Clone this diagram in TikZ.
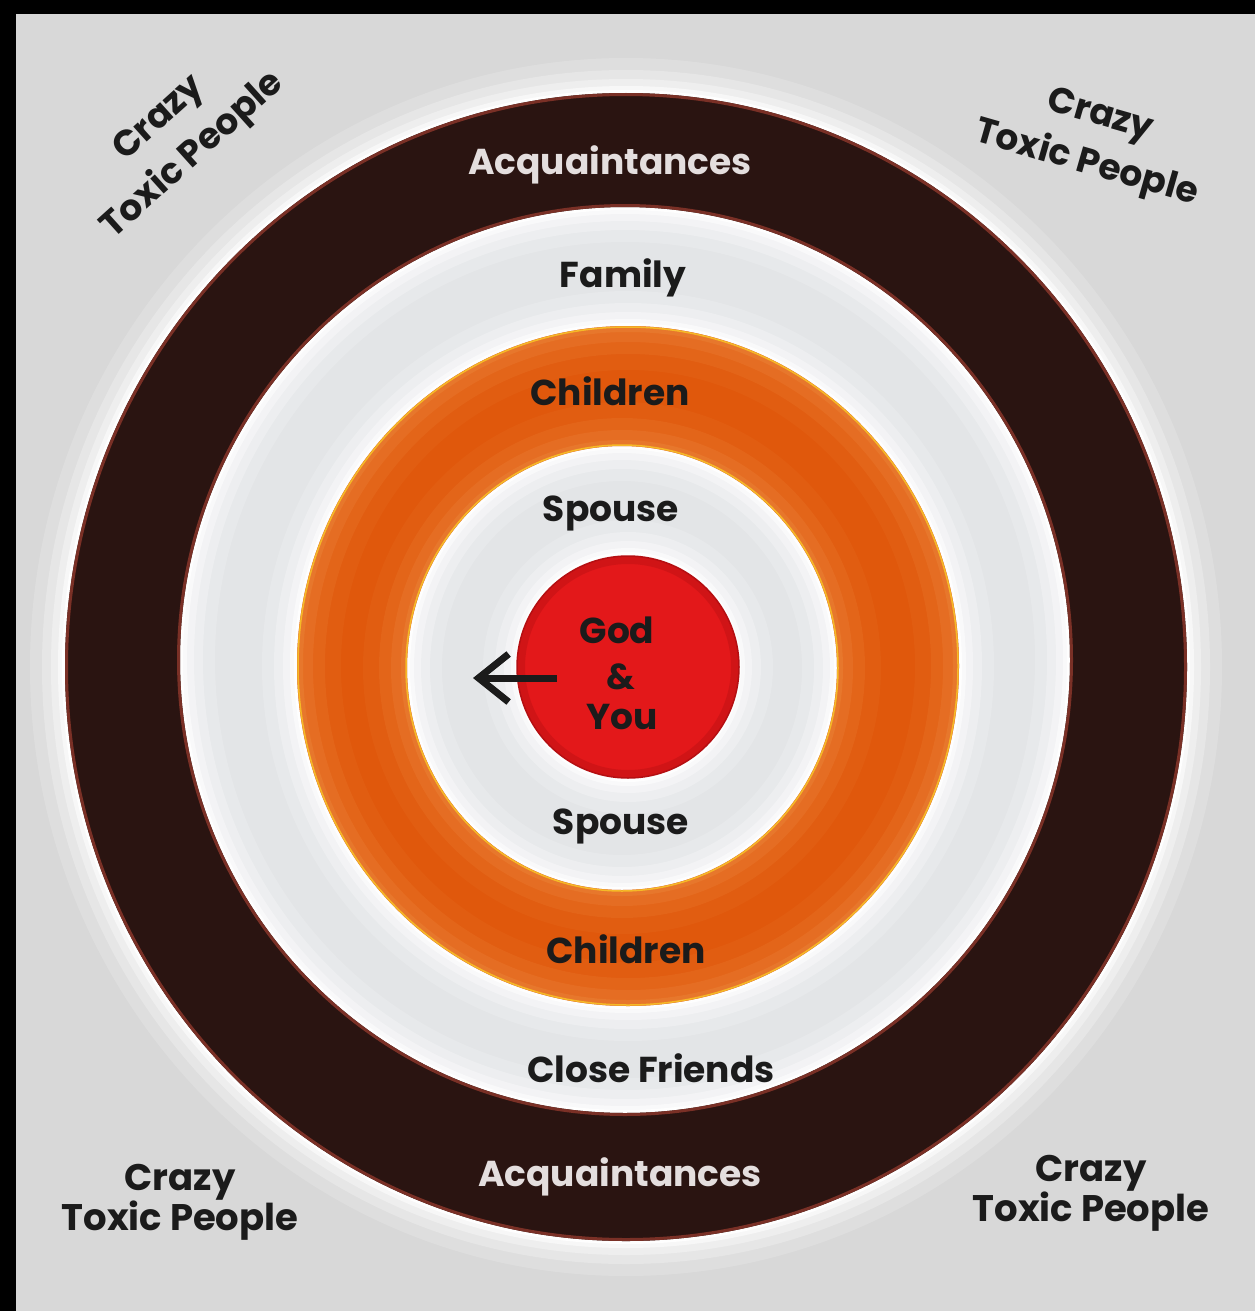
\documentclass[tikz,border=0pt]{standalone}
\usepackage{fontspec}
\setmainfont{Poppins}
\usetikzlibrary{arrows.meta}
\definecolor{bg}{HTML}{D8D8D8}
\definecolor{bglight}{HTML}{E3E5E7}
\definecolor{darkring}{HTML}{2A1411}
\definecolor{darkedge}{HTML}{7A3026}
\definecolor{orangering}{HTML}{E0580C}
\definecolor{orangeedge}{HTML}{EE8A40}
\definecolor{redcore}{HTML}{E3181A}
\definecolor{rededge}{HTML}{B50F12}
\definecolor{ink}{HTML}{1B1B1B}
\definecolor{lightink}{HTML}{E4DEDE}
\newcommand\halo[4]{%
  \foreach \w/\o in {70/0.17,46/0.25,28/0.35,14/0.55,6/0.9}
    \draw[white, opacity=\o, line width=\w] (#1,#2) ellipse [x radius=#3, y radius=#4];}
\begin{document}
\begin{tikzpicture}[x=1pt,y=-1pt,
  lbl/.style={font=\bfseries\fontsize{36}{38}\selectfont, text=ink, inner sep=0pt},
  lbllight/.style={lbl, text=lightink},
  cornerlbl/.style={font=\bfseries\fontsize{37}{40}\selectfont, text=ink, inner sep=0pt, align=center},
  cornerrot/.style={cornerlbl, font=\bfseries\fontsize{36}{50}\selectfont}]
\useasboundingbox (0,0) rectangle (1255,1311);
% background
\fill[bg] (0,0) rectangle (1255,1311);
\fill[bglight] (625,660) ellipse [x radius=445, y radius=453];
% halos
\halo{626}{667}{561}{574}
\halo{625}{660}{445}{453}
\halo{628}{666}{331}{340}
\halo{622}{668}{215}{222}
\halo{628}{667}{110}{112}
% dark ring
\fill[darkring, even odd rule] (626,667) ellipse [x radius=561, y radius=574]
   (625,660) ellipse [x radius=445, y radius=453];
\draw[darkedge, line width=3] (626,667) ellipse [x radius=559.5, y radius=572.5];
\draw[darkedge, line width=3] (625,660) ellipse [x radius=446.5, y radius=454.5];
% orange ring
\fill[orangering, even odd rule] (628,666) ellipse [x radius=331, y radius=340]
   (622,668) ellipse [x radius=215, y radius=222];
\foreach \d/\o in {3/0.35,8/0.25,14/0.18,22/0.1} {
  \draw[orangeedge, opacity=\o, line width=2*\d] (628,666) ellipse [x radius=331-\d, y radius=340-\d];
  \draw[orangeedge, opacity=\o, line width=2*\d] (622,668) ellipse [x radius=215+\d, y radius=222+\d];
}
\draw[orangeedge!60!yellow, line width=1.5] (628,666) ellipse [x radius=330, y radius=339];
\draw[orangeedge!60!yellow, line width=1.5] (622,668) ellipse [x radius=216, y radius=223];
% red core
\node[circle, fill=redcore, minimum size=222pt, inner sep=0pt] (core) at (628,667) {};
\draw[rededge, opacity=.4, line width=8] (628,667) circle (107);
\draw[rededge, line width=1.5] (628,667) circle (111);
% labels
\node[lbllight] (acqtop) at (610,165) {Acquaintances};
\node[lbl] (family) at (623,278) {Family};
\node[lbl] (childtop) at (610,391) {Children};
\node[lbl] (spousetop) at (611,513) {Spouse};
\node[lbl] (god) at (617,630) {God};
\node[lbl] (amp) at (621,677) {\&};
\node[lbl] (you) at (622,717) {You};
\node[lbl] (spousebot) at (621,826) {Spouse};
\node[lbl] (childbot) at (626,949) {Children};
\node[lbl] (friends) at (651,1068) {Close Friends};
\node[lbllight] (acqbot) at (620,1177) {Acquaintances};
% corners
\node[cornerrot, rotate=42] (tl) at (177,138) {Crazy\\Toxic People};
\node[cornerrot, rotate=-16] (tr) at (1093,141) {Crazy\\Toxic People};
\node[cornerlbl] (bl) at (180,1202) {Crazy\\Toxic People};
\node[cornerlbl] (br) at (1091,1193) {Crazy\\Toxic People};
% arrow
\coordinate (arrstart) at (557,678);
\coordinate (arrtip) at (473,678);
\draw[line width=7, ink, -{Straight Barb[length=30pt,width=48pt]}] (arrstart) -- (arrtip);
% black frame
\fill[black] (0,0) rectangle (1255,14);
\fill[black] (0,0) rectangle (16,1311);
\end{tikzpicture}
\end{document}
